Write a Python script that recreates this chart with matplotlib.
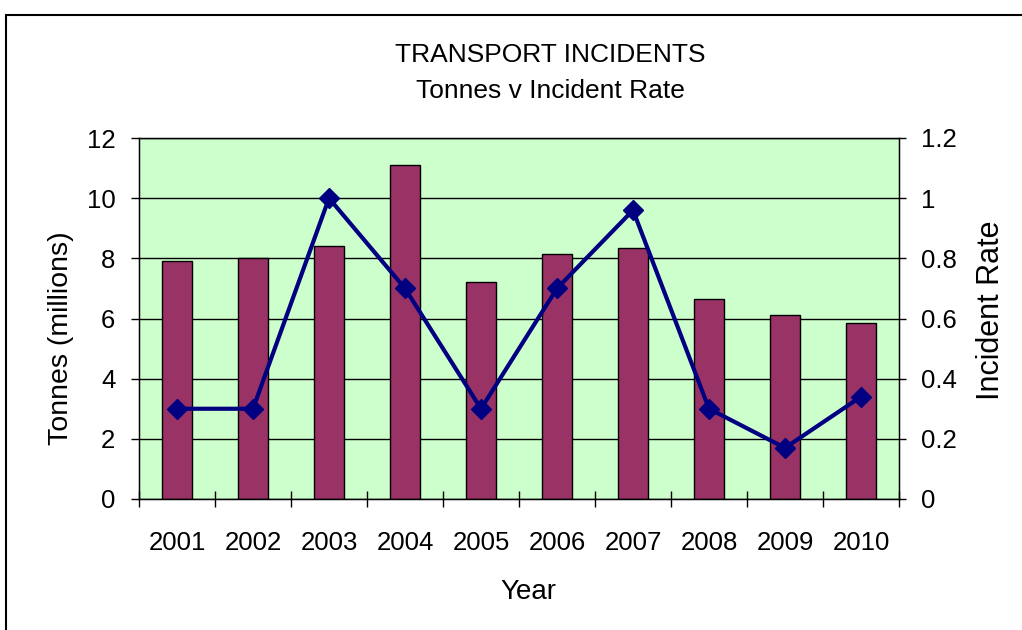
import matplotlib.pyplot as plt
import matplotlib.patches as patches
import numpy as np

plt.rcParams['font.family'] = ['Liberation Sans', 'DejaVu Sans']

years = ['2001', '2002', '2003', '2004', '2005', '2006', '2007', '2008', '2009', '2010']
tonnes = [7.9, 8.0, 8.4, 11.1, 7.2, 8.15, 8.35, 6.65, 6.1, 5.85]
incident_rate = [0.3, 0.3, 1.0, 0.7, 0.3, 0.7, 0.96, 0.3, 0.17, 0.34]

W, H = 1022, 630
fig = plt.figure(figsize=(W / 100, H / 100), dpi=100)

# plot area in pixels
left, right, top, bottom = 139, 899, 138, 499
ax = fig.add_axes([left / W, 1 - bottom / H, (right - left) / W, (bottom - top) / H])
ax.set_facecolor('#ccffcc')

x = np.arange(len(years))
ax.bar(x, tonnes, width=0.4, color='#993366', edgecolor='black', linewidth=1, zorder=2)
ax.set_xlim(-0.5, len(years) - 0.5)
ax.set_ylim(0, 12)
ax.set_yticks(np.arange(0, 13, 2))
ax.grid(axis='y', color='black', linewidth=1)
ax.set_axisbelow(True)

# boundary ticks, labels in the middle
ax.set_xticks(np.arange(-0.5, len(years), 1))
ax.set_xticklabels([])
ax.set_xticks(x, minor=True)
ax.set_xticklabels(years, minor=True, fontsize=18.5)
ax.tick_params(axis='x', which='major', direction='inout', length=11, width=1)
ax.tick_params(axis='x', which='minor', length=0, pad=23)
ax.tick_params(axis='y', direction='out', length=6, width=1, labelsize=18.5, pad=11)

for s in ax.spines.values():
    s.set_color('black')
    s.set_linewidth(1)

ax2 = ax.twinx()
ax2.plot(x, incident_rate, color='#000080', linewidth=3, marker='D', markersize=10, zorder=3)
ax2.set_ylim(0, 1.2)
ax2.set_yticks([0, 0.2, 0.4, 0.6, 0.8, 1.0, 1.2])
ax2.set_yticklabels(['0', '0.2', '0.4', '0.6', '0.8', '1', '1.2'])
ax2.tick_params(axis='y', direction='out', length=5, width=1, labelsize=18.5, pad=11)

ax.set_xlabel('Year', fontsize=20)
ax.xaxis.set_label_coords(0.512, -0.222)
ax.set_ylabel('Tonnes (millions)', fontsize=20.5)
ax.yaxis.set_label_coords(-0.086, 0.446)
ax2.set_ylabel('Incident Rate', fontsize=22)
ax2.yaxis.set_label_coords(1.101, 0.524)

fig.text(550 / W, 1 - 62 / H, 'TRANSPORT INCIDENTS', ha='center', va='baseline', fontsize=19)
fig.text(550 / W, 1 - 98 / H, 'Tonnes v Incident Rate', ha='center', va='baseline', fontsize=19)

# outer chart frame
frame = patches.Rectangle((6 / W, -0.1), 1.2, 1 - 15 / H + 0.1, transform=fig.transFigure,
                          fill=False, edgecolor='black', linewidth=1.5)
fig.patches.append(frame)

fig.savefig('out.png', dpi=100)
